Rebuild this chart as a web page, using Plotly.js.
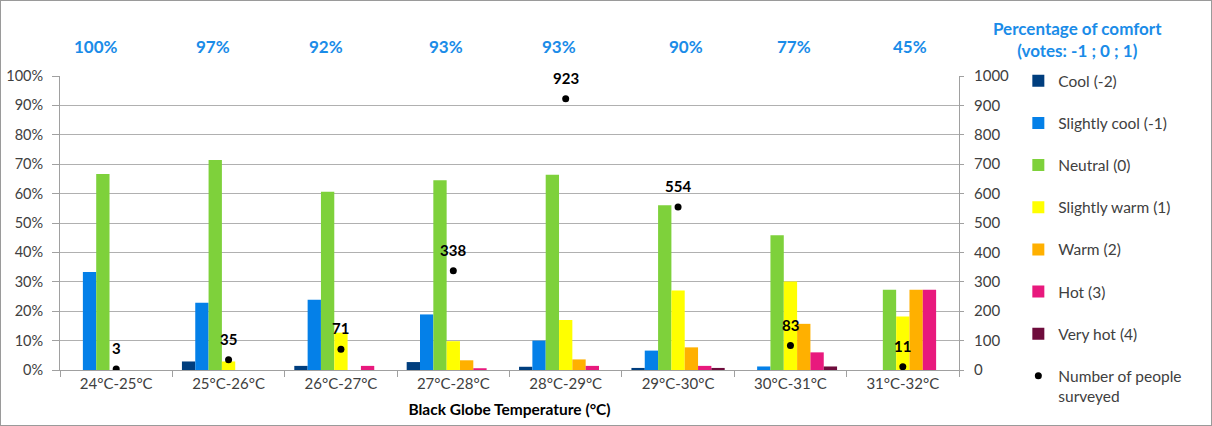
<!DOCTYPE html>
<html>
<head>
<meta charset="utf-8">
<script src="https://cdn.plot.ly/plotly-3.0.1.min.js"></script>
<style>
  html, body { margin: 0; padding: 0; background: #fff; }
  #chart { width: 1210px; height: 424px; border: 1px solid #9a9a9a; }
</style>
</head>
<body>
<div id="chart"></div>
<script>
const categories = ["24°C-25°C", "25°C-26°C", "26°C-27°C", "27°C-28°C", "28°C-29°C", "29°C-30°C", "30°C-31°C", "31°C-32°C"];
const cool = [0, 2.9, 1.4, 2.7, 1.1, 0.7, 0, 0];
const slightlyCool = [33.3, 22.9, 23.9, 18.9, 10.0, 6.6, 1.2, 0];
const neutral = [66.7, 71.4, 60.6, 64.5, 66.4, 56.0, 45.8, 27.3];
const slightlyWarm = [0, 2.9, 12.7, 9.8, 17.0, 27.0, 30.1, 18.2];
const warm = [0, 0, 0, 3.3, 3.6, 7.7, 15.7, 27.3];
const hot = [0, 0, 1.4, 0.6, 1.4, 1.4, 6.0, 27.3];
const veryHot = [0, 0, 0, 0, 0, 0.7, 1.2, 0];
const peopleSurveyed = [3, 35, 71, 338, 923, 554, 83, 11];
const comfortLabels = ["100%", "97%", "92%", "93%", "93%", "90%", "77%", "45%"];

const seriesNames = ["Cool (-2)", "Slightly cool (-1)", "Neutral (0)", "Slightly warm (1)", "Warm (2)", "Hot (3)", "Very hot (4)"];
const seriesValues = [cool, slightlyCool, neutral, slightlyWarm, warm, hot, veryHot];
const seriesColors = ["#003E7E", "#0480E8", "#7ED13B", "#FFFF00", "#FFB000", "#E8197D", "#6E0C3C"];

const FONT = "Lato, 'Open Sans', sans-serif";
const TXT = "#404040";
const BLUE = "#1A8CE8";

const traces = seriesNames.map((name, i) => ({
  type: "bar",
  name: name,
  x: categories,
  y: seriesValues[i],
  marker: { color: seriesColors[i] },
  legendgroup: "g" + i,
  hoverinfo: "name+y"
}));

traces.push({
  type: "scatter",
  mode: "markers",
  name: "Number of people<br>surveyed",
  x: categories,
  y: peopleSurveyed,
  yaxis: "y2",
  marker: { color: "#000", size: 7 },
  legendgroup: "g7"
});

// label shifts for the manually placed comfort labels (style only)
const comfortShift = [-20, -16, -15, -7, -7, 8, 4, 7];
const annotations = categories.map((c, i) => ({
  x: c, xref: "x", y: 1.142, yref: "paper",
  xshift: comfortShift[i],
  text: "<b>" + comfortLabels[i] + "</b>",
  showarrow: false,
  font: { family: FONT, size: 17, color: BLUE }
}));
categories.forEach((c, i) => annotations.push({
  x: c, xref: "x", y: peopleSurveyed[i], yref: "y2",
  yshift: 21,
  text: "<b>" + peopleSurveyed[i] + "</b>",
  showarrow: false,
  font: { family: FONT, size: 15, color: "#000" }
}));
annotations.push({
  x: 1.228, xref: "paper", y: 1.205, yref: "paper",
  text: "<b>Percentage of comfort<br>(votes: -1 ; 0 ; 1)</b>",
  showarrow: false, align: "center",
  font: { family: FONT, size: 17, color: BLUE }
});

const layout = {
  width: 1210, height: 424,
  margin: { l: 59, r: 252, t: 75, b: 55 },
  paper_bgcolor: "#fff", plot_bgcolor: "#fff",
  barmode: "group",
  bargap: 0.17,
  bargroupgap: 0,
  showlegend: true,
  legend: {
    x: 1.066, xanchor: "left", y: 1.04, yanchor: "top",
    traceorder: "grouped",
    tracegroupgap: 19,
    maxheight: 400,
    valign: "top",
    font: { family: FONT, size: 15.5, color: TXT },
    bgcolor: "rgba(0,0,0,0)"
  },
  font: { family: FONT, size: 14, color: TXT },
  xaxis: {
    type: "category",
    tickson: "boundaries",
    ticks: "outside", ticklen: 6, tickcolor: "#a0a0a0",
    showline: true, linecolor: "#a0a0a0", linewidth: 1,
    showgrid: false,
    tickfont: { family: FONT, size: 15, color: TXT },
    title: { text: "<b>Black Globe Temperature (°C)</b>", font: { family: FONT, size: 15.5, color: "#000" }, standoff: 13 }
  },
  yaxis: {
    range: [0, 100], dtick: 10,
    ticksuffix: "%",
    ticks: "outside", ticklen: 7, tickcolor: "#a0a0a0",
    ticklabelstandoff: 6,
    showline: true, linecolor: "#a0a0a0",
    gridcolor: "#b0b0b0", gridwidth: 1,
    zeroline: false,
    tickfont: { family: FONT, size: 14.5, color: TXT }
  },
  yaxis2: {
    overlaying: "y", side: "right",
    range: [0, 1000], dtick: 100,
    ticks: "outside", ticklen: 4, tickcolor: "#a0a0a0",
    ticklabelstandoff: 7,
    showline: true, linecolor: "#a0a0a0",
    showgrid: false, zeroline: false,
    tickfont: { family: FONT, size: 15, color: TXT }
  },
  annotations: annotations
};

Plotly.newPlot("chart", traces, layout, { displayModeBar: false, staticPlot: true });
</script>
</body>
</html>
